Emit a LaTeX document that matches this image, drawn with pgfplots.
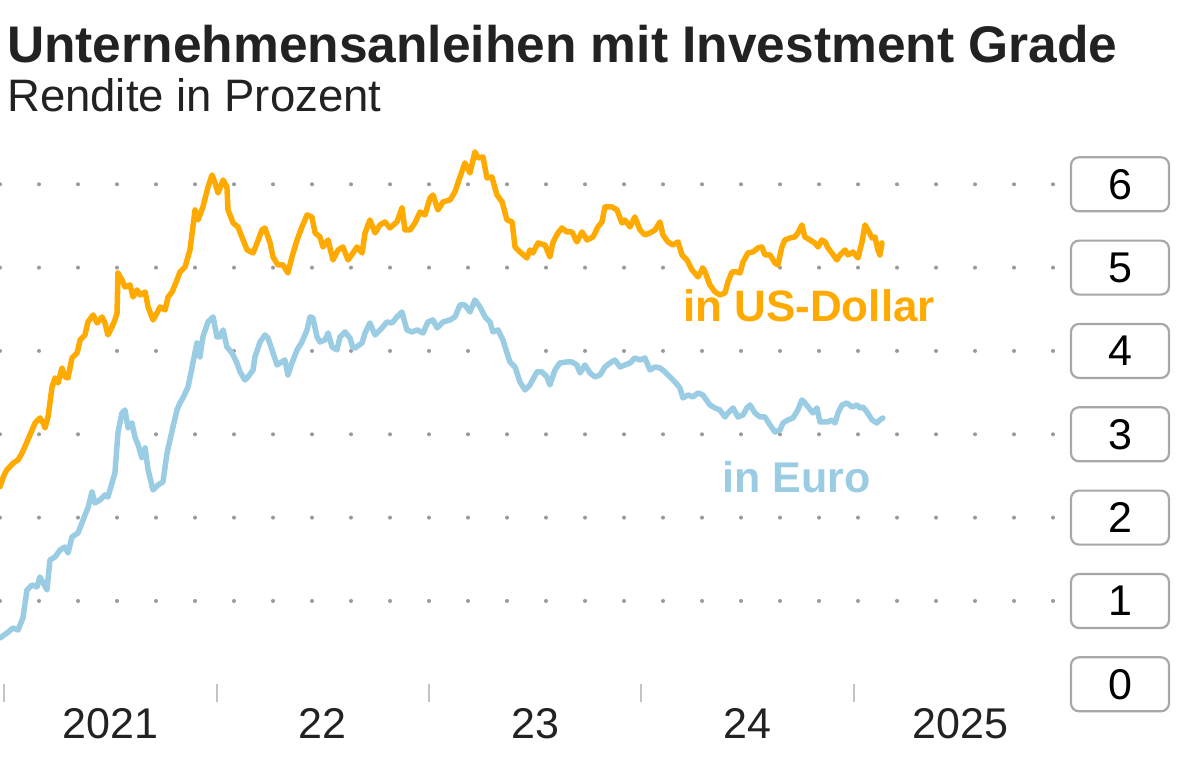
\documentclass[border=0pt]{standalone}
\usepackage{fontspec}
\setmainfont{Liberation Sans}
\usepackage{pgfplots}
\pgfplotsset{compat=1.18}
\definecolor{usd}{HTML}{FFAA00}
\definecolor{euro}{HTML}{9ACCE3}
\definecolor{gridgray}{HTML}{9A9A9A}
\definecolor{tickgray}{HTML}{C4C4C4}
\definecolor{boxgray}{HTML}{A8A8A8}
\definecolor{txt}{HTML}{222222}
\begin{document}
\begin{tikzpicture}[x=1bp,y=1bp]
\useasboundingbox (0,0) rectangle (1200,765);
\fill[white] (0,0) rectangle (1200,765);
\node[anchor=base west, inner sep=0pt, text=txt, font=\fontsize{51.5bp}{60bp}\selectfont\bfseries] at (7,702) {Unternehmensanleihen mit Investment Grade};
\node[anchor=base west, inner sep=0pt, text=txt, font=\fontsize{45.5bp}{52bp}\selectfont] at (7,653) {Rendite in Prozent};
\begin{axis}[
  at={(0bp,80.7bp)}, anchor=south west, scale only axis,
  width=1056bp, height=550bp,
  xmin=2020.981, xmax=2025.951, ymin=0, ymax=6.6,
  clip=false,
  axis line style={draw=none},
  tick align=outside,
  major tick length=18bp,
  xtick pos=bottom,
  xtick={2021,2022,2023,2024,2025}, xticklabels={},
  xtick style={draw=tickgray, line width=2bp},
  extra x ticks={2021.5,2022.5,2023.5,2024.5,2025.5},
  extra x tick labels={2021,22,23,24,2025},
  extra x tick style={major tick length=0pt, tick style={draw=none}},
  xticklabel style={anchor=base, yshift=-54bp, text=txt, font=\fontsize{43bp}{50bp}\selectfont},
  ytick={1,2,3,4,5,6}, yticklabels={1,2,3,4,5,6},
  extra y ticks={0}, extra y tick labels={0},
  extra y tick style={grid=none},
  ytick style={draw=none},
  ymajorgrids,
  major grid style={draw=gridgray, line width=4bp, line cap=round, dash pattern=on 0pt off 39bp},
  yticklabel pos=right,
  yticklabel style={anchor=center, xshift=46bp, draw=boxgray, line width=2.2bp, rounded corners=8bp,
    minimum width=98bp, minimum height=54bp, inner sep=0pt, text=black,
    font=\fontsize{43bp}{48bp}\selectfont},
]
\addplot[euro, line width=5.5bp, line join=round, line cap=round] coordinates {
(2020.981,0.556) (2021.014,0.616) (2021.042,0.676) (2021.066,0.652) (2021.089,0.796)
(2021.108,1.132) (2021.132,1.192) (2021.155,1.168) (2021.169,1.288) (2021.184,1.216)
(2021.202,1.132) (2021.216,1.492) (2021.240,1.528) (2021.264,1.612) (2021.287,1.648)
(2021.301,1.576) (2021.320,1.768) (2021.348,1.816) (2021.367,1.936) (2021.381,2.032)
(2021.395,2.116) (2021.414,2.308) (2021.428,2.176) (2021.452,2.212) (2021.475,2.272)
(2021.489,2.248) (2021.508,2.416) (2021.522,2.536) (2021.536,3.016) (2021.555,3.256)
(2021.569,3.292) (2021.584,3.076) (2021.602,3.136) (2021.616,2.968) (2021.631,2.872)
(2021.649,2.716) (2021.664,2.836) (2021.678,2.572) (2021.701,2.332) (2021.725,2.392)
(2021.748,2.428) (2021.767,2.776) (2021.781,2.932) (2021.795,3.088) (2021.814,3.292)
(2021.828,3.376) (2021.842,3.436) (2021.866,3.568) (2021.889,3.856) (2021.908,4.096)
(2021.922,3.928) (2021.936,4.168) (2021.960,4.348) (2021.984,4.408) (2022.002,4.168)
(2022.016,4.168) (2022.031,4.252) (2022.049,4.048) (2022.073,3.976) (2022.096,3.856)
(2022.111,3.748) (2022.134,3.652) (2022.148,3.688) (2022.172,3.772) (2022.181,3.928)
(2022.205,4.108) (2022.228,4.192) (2022.242,4.156) (2022.266,3.976) (2022.285,3.832)
(2022.299,3.856) (2022.322,3.892) (2022.336,3.712) (2022.355,3.856) (2022.379,4.012)
(2022.402,4.108) (2022.426,4.252) (2022.440,4.408) (2022.454,4.396) (2022.473,4.168)
(2022.487,4.108) (2022.511,4.132) (2022.525,4.216) (2022.544,4.048) (2022.567,4.012)
(2022.581,4.168) (2022.605,4.228) (2022.628,4.156) (2022.642,4.036) (2022.652,4.036)
(2022.685,4.096) (2022.699,4.216) (2022.722,4.336) (2022.746,4.192) (2022.779,4.276)
(2022.802,4.348) (2022.826,4.336) (2022.849,4.408) (2022.873,4.468) (2022.896,4.252)
(2022.920,4.228) (2022.944,4.252) (2022.972,4.216) (2022.995,4.348) (2023.019,4.372)
(2023.038,4.276) (2023.066,4.348) (2023.099,4.372) (2023.122,4.408) (2023.146,4.552)
(2023.169,4.552) (2023.193,4.468) (2023.216,4.612) (2023.240,4.528) (2023.264,4.408)
(2023.287,4.348) (2023.301,4.228) (2023.325,4.252) (2023.348,4.132) (2023.367,3.976)
(2023.381,3.868) (2023.405,3.808) (2023.428,3.628) (2023.452,3.532) (2023.475,3.592)
(2023.508,3.748) (2023.532,3.748) (2023.555,3.688) (2023.569,3.592) (2023.593,3.772)
(2023.616,3.856) (2023.649,3.868) (2023.673,3.868) (2023.696,3.832) (2023.711,3.736)
(2023.734,3.832) (2023.758,3.736) (2023.781,3.688) (2023.805,3.712) (2023.828,3.808)
(2023.852,3.856) (2023.875,3.892) (2023.899,3.808) (2023.922,3.832) (2023.946,3.856)
(2023.969,3.916) (2023.993,3.892) (2024.016,3.916) (2024.040,3.772) (2024.064,3.808)
(2024.087,3.796) (2024.111,3.748) (2024.134,3.688) (2024.158,3.628) (2024.181,3.556)
(2024.195,3.436) (2024.219,3.472) (2024.242,3.448) (2024.266,3.496) (2024.289,3.472)
(2024.322,3.352) (2024.346,3.316) (2024.369,3.292) (2024.393,3.208) (2024.407,3.256)
(2024.431,3.316) (2024.454,3.208) (2024.478,3.232) (2024.496,3.316) (2024.511,3.352)
(2024.534,3.256) (2024.558,3.208) (2024.581,3.208) (2024.605,3.112) (2024.628,3.028)
(2024.652,3.052) (2024.666,3.136) (2024.689,3.172) (2024.713,3.196) (2024.736,3.292)
(2024.755,3.412) (2024.769,3.376) (2024.784,3.328) (2024.807,3.256) (2024.826,3.316)
(2024.840,3.148) (2024.864,3.148) (2024.878,3.148) (2024.896,3.172) (2024.911,3.136)
(2024.925,3.256) (2024.944,3.352) (2024.967,3.376) (2024.991,3.328) (2025.014,3.352)
(2025.028,3.316) (2025.042,3.328) (2025.061,3.268) (2025.085,3.172) (2025.108,3.136)
(2025.122,3.172) (2025.136,3.196)
};
\addplot[usd, line width=5.5bp, line join=round, line cap=round] coordinates {
(2020.981,2.371) (2020.997,2.491) (2021.013,2.572) (2021.044,2.656) (2021.066,2.692)
(2021.085,2.776) (2021.108,2.908) (2021.132,3.052) (2021.146,3.136) (2021.169,3.196)
(2021.184,3.136) (2021.193,3.076) (2021.207,3.208) (2021.226,3.568) (2021.240,3.676)
(2021.254,3.616) (2021.273,3.796) (2021.287,3.688) (2021.301,3.676) (2021.320,3.916)
(2021.344,3.976) (2021.358,4.132) (2021.381,4.192) (2021.395,4.348) (2021.419,4.432)
(2021.438,4.336) (2021.461,4.408) (2021.475,4.336) (2021.489,4.192) (2021.508,4.288)
(2021.522,4.372) (2021.532,4.456) (2021.536,4.936) (2021.555,4.852) (2021.569,4.768)
(2021.593,4.792) (2021.607,4.648) (2021.626,4.732) (2021.640,4.672) (2021.664,4.708)
(2021.678,4.528) (2021.701,4.372) (2021.720,4.456) (2021.734,4.528) (2021.758,4.492)
(2021.772,4.648) (2021.791,4.708) (2021.814,4.852) (2021.828,4.948) (2021.852,5.008)
(2021.875,5.212) (2021.899,5.692) (2021.913,5.572) (2021.936,5.728) (2021.960,5.968)
(2021.979,6.112) (2021.993,6.016) (2022.007,5.896) (2022.031,6.052) (2022.049,5.968)
(2022.054,5.692) (2022.078,5.536) (2022.101,5.488) (2022.125,5.332) (2022.144,5.212)
(2022.172,5.176) (2022.191,5.296) (2022.214,5.452) (2022.228,5.476) (2022.252,5.296)
(2022.266,5.128) (2022.289,5.032) (2022.313,5.032) (2022.336,4.936) (2022.355,5.128)
(2022.379,5.332) (2022.402,5.488) (2022.426,5.632) (2022.449,5.608) (2022.464,5.416)
(2022.487,5.368) (2022.501,5.248) (2022.525,5.332) (2022.548,5.092) (2022.572,5.212)
(2022.595,5.248) (2022.619,5.092) (2022.642,5.176) (2022.661,5.248) (2022.685,5.176)
(2022.699,5.416) (2022.722,5.572) (2022.746,5.416) (2022.769,5.512) (2022.793,5.548)
(2022.816,5.476) (2022.849,5.548) (2022.873,5.716) (2022.887,5.452) (2022.911,5.452)
(2022.934,5.536) (2022.958,5.668) (2022.981,5.632) (2023.005,5.836) (2023.019,5.872)
(2023.042,5.692) (2023.066,5.788) (2023.099,5.812) (2023.122,5.908) (2023.146,6.088)
(2023.169,6.256) (2023.193,6.136) (2023.216,6.388) (2023.231,6.316) (2023.254,6.328)
(2023.273,6.076) (2023.296,6.088) (2023.320,5.872) (2023.344,5.788) (2023.367,5.572)
(2023.391,5.548) (2023.405,5.248) (2023.428,5.188) (2023.461,5.116) (2023.475,5.212)
(2023.489,5.176) (2023.513,5.296) (2023.546,5.272) (2023.569,5.128) (2023.584,5.308)
(2023.607,5.416) (2023.626,5.476) (2023.649,5.428) (2023.673,5.428) (2023.696,5.308)
(2023.720,5.428) (2023.744,5.332) (2023.772,5.368) (2023.795,5.488) (2023.814,5.548)
(2023.828,5.728) (2023.861,5.728) (2023.885,5.692) (2023.908,5.536) (2023.922,5.572)
(2023.946,5.488) (2023.969,5.608) (2023.993,5.452) (2024.016,5.392) (2024.040,5.416)
(2024.064,5.452) (2024.087,5.548) (2024.101,5.392) (2024.125,5.308) (2024.148,5.272)
(2024.172,5.308) (2024.191,5.152) (2024.214,5.092) (2024.238,4.972) (2024.266,4.888)
(2024.289,4.996) (2024.299,4.948) (2024.322,4.792) (2024.346,4.708) (2024.369,4.672)
(2024.393,4.696) (2024.407,4.828) (2024.426,4.948) (2024.449,4.948) (2024.464,4.936)
(2024.478,5.068) (2024.501,5.176) (2024.525,5.188) (2024.548,5.236) (2024.567,5.248)
(2024.581,5.152) (2024.605,5.152) (2024.628,5.056) (2024.642,5.032) (2024.661,5.248)
(2024.675,5.332) (2024.699,5.356) (2024.722,5.368) (2024.736,5.416) (2024.755,5.512)
(2024.769,5.368) (2024.793,5.332) (2024.816,5.296) (2024.831,5.248) (2024.849,5.332)
(2024.864,5.308) (2024.878,5.236) (2024.896,5.176) (2024.920,5.092) (2024.934,5.152)
(2024.958,5.212) (2024.972,5.152) (2024.995,5.188) (2025.019,5.116) (2025.038,5.308)
(2025.052,5.512) (2025.066,5.452) (2025.085,5.356) (2025.099,5.368) (2025.113,5.212)
(2025.122,5.152) (2025.132,5.296)
};
\node[anchor=base west, inner sep=0pt, text=usd, font=\fontsize{44bp}{50bp}\selectfont\bfseries] at (axis cs:2024.195,4.348) {in US-Dollar};
\node[anchor=base west, inner sep=0pt, text=euro, font=\fontsize{43bp}{50bp}\selectfont\bfseries] at (axis cs:2024.379,2.296) {in Euro};
\end{axis}
\end{tikzpicture}
\end{document}
